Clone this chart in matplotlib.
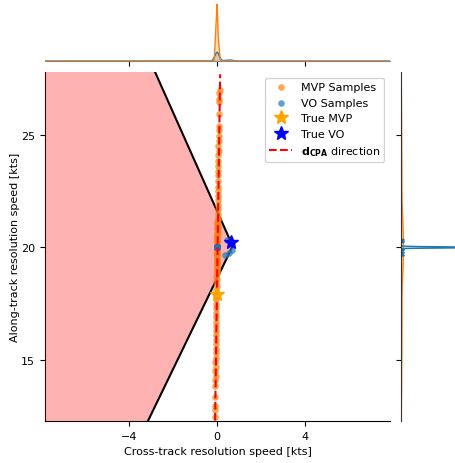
import numpy as np
import matplotlib
matplotlib.use("Agg")
import matplotlib.pyplot as plt

# MVP samples
mvp_y = [27.0, 26.85, 26.6, 26.45, 25.95, 25.4, 25.2, 24.95, 24.75, 24.5,
         24.3, 24.1, 23.85, 23.6, 23.4, 23.2, 22.95, 22.7, 22.5, 22.3,
         22.1, 21.9, 21.7, 21.5, 21.3, 21.15, 21.0, 20.85, 20.7, 20.55,
         20.4, 20.25, 20.1, 19.95, 19.8, 19.65, 19.5, 19.35, 19.2, 19.05,
         18.9, 18.75, 18.6, 18.45, 18.3, 18.1, 17.9, 17.7, 17.5, 17.3,
         17.1, 16.9, 16.7, 16.5, 16.3, 16.1, 15.9, 15.7, 15.5, 15.3,
         15.1, 14.9, 14.7, 14.5, 14.3, 14.1, 13.85, 13.35, 12.95, 12.75, 12.45,
         # denser bunch around 20 (hidden in the line, seen in the right marginal)
         21.2, 21.05, 20.9, 20.8, 20.65, 20.5, 20.35, 20.2, 20.05, 19.9,
         19.75, 19.6, 19.45, 19.3, 19.15, 19.0, 18.85, 20.3, 19.7, 20.0]
mvp_x = [0.12, 0.10, 0.11, 0.09, 0.10, 0.08, 0.09, 0.07, 0.08, 0.06,
         0.07, 0.05, 0.06, 0.05, 0.06, 0.04, 0.05, 0.03, 0.04, 0.03,
         0.04, 0.02, 0.03, 0.02, 0.03, 0.01, 0.02, 0.01, 0.02, 0.00,
         0.01, 0.00, 0.01, -0.01, 0.00, -0.01, 0.00, -0.02, -0.01, -0.02,
         -0.01, -0.03, -0.02, -0.03, -0.02, -0.04, -0.03, -0.04, -0.03, -0.05,
         -0.04, -0.05, -0.04, -0.06, -0.05, -0.06, -0.05, -0.07, -0.06, -0.07,
         -0.06, -0.08, -0.07, -0.08, -0.07, -0.09, -0.08, -0.09, -0.10, -0.09, -0.11,
         0.02, 0.01, 0.02, 0.01, 0.00, 0.01, 0.00, 0.01, 0.00, -0.01,
         0.00, -0.01, 0.00, -0.01, -0.02, -0.01, -0.02, 0.01, -0.01, 0.00]

# VO samples: most collapse on (0, 20), a few sit near the cone apex
vo_x = [0.0, 0.0, 0.0, 0.0, 0.0, 0.0, 0.0, 0.0, 0.0, 0.0,
        0.0, 0.0, 0.0, 0.0, 0.0, 0.0, 0.0, 0.0, 0.0, 0.0,
        0.0, 0.0, 0.0, 0.0, 0.0, 0.0, 0.0, 0.0,
        0.36, 0.56, 0.67, 0.45, 0.64]
vo_y = [20.0, 20.0, 20.0, 20.0, 20.0, 20.0, 20.0, 20.0, 20.0, 20.0,
        20.0, 20.0, 20.0, 20.0, 20.0, 20.0, 20.0, 20.0, 20.0, 20.0,
        20.0, 20.0, 20.0, 20.0, 20.0, 20.0, 20.0, 20.0,
        19.64, 19.76, 19.88, 20.33, 20.24]

true_mvp = (0.0, 17.93)
true_vo = (0.65, 20.22)

# velocity obstacle cone (apex, upper edge point, lower edge point)
cone_apex = (0.71, 20.06)
cone_up = (-8.38, 40.0)
cone_low = (-9.22, 0.0)

# d_CPA direction line
dcpa_x = [-0.09, 0.14]
dcpa_y = [12.3, 27.7]

xlim = (-7.82, 7.86)
ylim = (12.28, 27.8)


def kde(samples, grid, weight, bw_adjust=1.0):
    # gaussian kde, Scott bandwidth, scaled by group share (like seaborn common_norm)
    s = np.asarray(samples, dtype=float)
    bw = bw_adjust * s.std(ddof=1) * len(s) ** (-0.2)
    d = (grid[:, None] - s[None, :]) / bw
    return weight * np.exp(-0.5 * d**2).sum(1) / (len(s) * bw * np.sqrt(2 * np.pi))


plt.rcParams['font.size'] = 8

W, H = 455, 464
fig = plt.figure(figsize=(W / 100, H / 100), dpi=100)
ax = fig.add_axes([45 / W, 1 - 422 / H, 345 / W, 349 / H])
ax_top = fig.add_axes([45 / W, 1 - 62 / H, 345 / W, 61 / H])
ax_right = fig.add_axes([401 / W, 1 - 422 / H, 69 / W, 349 / H])

# cone
poly_x = [cone_apex[0], cone_up[0], -40, -40, cone_low[0]]
poly_y = [cone_apex[1], cone_up[1], cone_up[1], cone_low[1], cone_low[1]]
ax.fill(poly_x, poly_y, color='red', alpha=0.3, lw=0, zorder=3)
ax.plot([cone_up[0], cone_apex[0], cone_low[0]], [cone_up[1], cone_apex[1], cone_low[1]],
        color='black', lw=1.5, zorder=4)

ax.scatter(mvp_x, mvp_y, s=22, color='tab:orange', alpha=0.7, lw=0, zorder=5, label='MVP Samples')
ax.scatter(vo_x, vo_y, s=22, color='tab:blue', alpha=0.7, lw=0, zorder=5, label='VO Samples')
ax.plot(*true_mvp, '*', color='orange', ms=10, zorder=7, label='True MVP', lw=0)
ax.plot(*true_vo, '*', color='blue', ms=10, zorder=7, label='True VO', lw=0)
ax.plot(dcpa_x, dcpa_y, '--', color='red', lw=1.5, zorder=6,
        label=r'$\mathbf{d_{CPA}}$ direction')

ax.set_xlim(xlim)
ax.set_ylim(ylim)
ax.set_xticks([-4, 0, 4])
ax.set_yticks([15, 20, 25])
ax.spines['top'].set_visible(False)
ax.spines['right'].set_visible(False)
ax.set_xlabel('Cross-track resolution speed [kts]')
ax.set_ylabel('Along-track resolution speed [kts]', labelpad=1)
ax.legend(loc='upper right', fontsize=8)

# marginals
n_all = len(mvp_x) + len(vo_x)
gx = np.linspace(xlim[0], xlim[1], 4000)
top_mvp = kde(mvp_x, gx, len(mvp_x) / n_all)
top_vo = kde(vo_x, gx, len(vo_x) / n_all)
ax_top.fill_between(gx, top_vo, color='tab:blue', alpha=0.25, lw=0)
ax_top.plot(gx, top_vo, color='tab:blue', lw=1)
ax_top.fill_between(gx, top_mvp, color='tab:orange', alpha=0.25, lw=0)
ax_top.plot(gx, top_mvp, color='tab:orange', lw=1)
ax_top.set_xlim(xlim)
ax_top.set_ylim(0, top_mvp.max() / 0.93)

gy = np.linspace(ylim[0], ylim[1], 4000)
r_mvp = kde(mvp_y, gy, len(mvp_y) / n_all, bw_adjust=0.5)
r_vo = kde(vo_y, gy, len(vo_y) / n_all, bw_adjust=0.4)
ax_right.fill_betweenx(gy, r_mvp, color='tab:orange', alpha=0.25, lw=0)
ax_right.plot(r_mvp, gy, color='tab:orange', lw=1)
ax_right.fill_betweenx(gy, r_vo, color='tab:blue', alpha=0.25, lw=0)
ax_right.plot(r_vo, gy, color='tab:blue', lw=1)
ax_right.set_ylim(ylim)
ax_right.set_xlim(0, r_vo.max() / 1.3)

for a in (ax_top, ax_right):
    for s in a.spines.values():
        s.set_visible(False)
ax_top.spines['bottom'].set_visible(True)
ax_top.spines['bottom'].set_color('#888888')
ax_top.set_xticks([-4, 0, 4])
ax_top.set_xticklabels([])
ax_top.set_yticks([])
ax_right.spines['left'].set_visible(True)
ax_right.spines['left'].set_color('#333333')
ax_right.spines['left'].set_zorder(5)
ax_right.set_yticks([15, 20, 25])
ax_right.set_yticklabels([])
ax_right.set_xticks([])

fig.savefig('out.png', dpi=100)
